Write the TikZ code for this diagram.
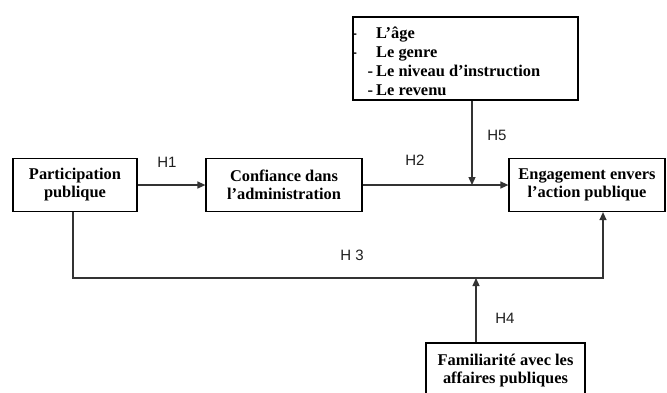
\documentclass[tikz,border=0pt]{standalone}
\usepackage{fontspec}
\setmainfont{Liberation Serif}
\newfontfamily\labelfont{Liberation Sans}
\usetikzlibrary{arrows.meta}
\begin{document}
\begin{tikzpicture}[x=1pt,y=-1pt,
  box/.style={draw=black, line width=1.2pt, inner sep=0pt, align=center,
    font=\fontsize{16.4}{18}\selectfont\bfseries},
  conn/.style={draw=black!80, line width=1.3pt},
  arr/.style={conn, -{Triangle[length=8pt,width=7pt]}},
  hlab/.style={font=\labelfont\fontsize{15}{16}\selectfont, text=black!88, inner sep=0pt}]
\useasboundingbox (0,0) rectangle (667,392);
\fill[white] (0,0) rectangle (667,392);

% boxes
\node[box, minimum width=225pt, minimum height=83pt] (dem) at (465.5,58.5) {};
\node[anchor=west, align=left, inner sep=0pt,
  font=\fontsize{16.4}{19}\selectfont\bfseries] (demtxt) at (376,61.5)
  {\llap{-\hspace{19pt}}L’âge\\
   \llap{-\hspace{19pt}}Le genre\\
   \llap{-\hspace{3pt}}Le niveau d’instruction\\
   \llap{-\hspace{3pt}}Le revenu};

\node[box, minimum width=124pt, minimum height=53pt] (part) at (75,185)
  {Participation\\ publique};
\node[box, minimum width=156pt, minimum height=53pt] (conf) at (284,185)
  {Confiance dans\\ l’administration};
\node[box, minimum width=156pt, minimum height=53pt] (eng) at (587,185)
  {Engagement envers\\ l’action publique};
\begin{scope}
\clip (0,0) rectangle (667,392);
\node[box, minimum width=159pt, minimum height=55pt] (fam) at (505.5,370.5)
  {Familiarité avec les\\ affaires publiques};
\end{scope}

% connector coordinates
\coordinate (h5end) at (472,185);
\coordinate (h3c) at (603,278);
\coordinate (h4end) at (476,278);

% connectors
\draw[arr] (part.east) -- (conf.west);
\draw[arr] (conf.east) -- (eng.west);
\draw[arr] (dem.south -| h5end) -- (h5end);
\draw[arr] (part.south -| 73,0) |- (h3c) -- (h3c |- eng.south);
\draw[arr] (fam.north -| h4end) -- (h4end);

% labels
\node[hlab] (l1) at (167,162) {H1};
\node[hlab] (l2) at (415,160) {H2};
\node[hlab] (l5) at (497,135) {H5};
\node[hlab] (l3) at (352,255) {H 3};
\node[hlab] (l4) at (505,318) {H4};
\end{tikzpicture}
\end{document}
